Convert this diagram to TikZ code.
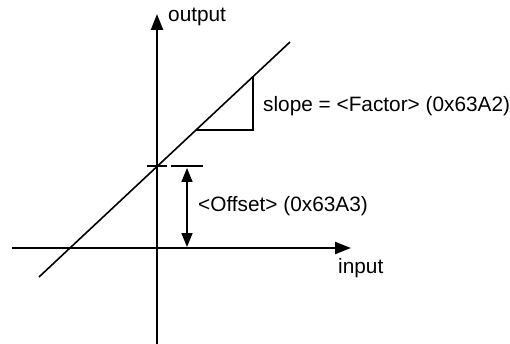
\documentclass[tikz,border=0pt]{standalone}
\usepackage{fontspec}
\setmainfont{Liberation Sans}
\usetikzlibrary{arrows.meta}

\begin{document}
\begin{tikzpicture}[
  x=1pt, y=-1pt,
  font=\fontsize{20.8}{25}\selectfont,
  axis/.style={draw=black, line width=2.4pt, -{Triangle[width=12pt,length=16pt]}},
  curve/.style={draw=black, line width=1.6pt},
  helper/.style={draw=black, line width=1.2pt},
  dim/.style={draw=black, line width=1.6pt, {Triangle[width=11pt,length=14pt]}-{Triangle[width=11pt,length=14pt]}},
  lbl/.style={inner sep=0pt, anchor=west}
]
\useasboundingbox (0,0) rectangle (510,344);

% axes
\coordinate (ybot) at (157, 344);
\coordinate (ytop) at (157, 14);
\coordinate (xleft) at (12, 248);
\coordinate (xright) at (351, 248);
\draw[axis] (ybot) -- (ytop);
\draw[axis] (xleft) -- (xright);
\node[lbl] (output) at (168, 17) {output};
\node[lbl] (input) at (338, 268) {input};

% characteristic line
\coordinate (lstart) at (39, 277);
\coordinate (lend) at (290, 42);
\draw[curve] (lstart) -- (lend);

% slope triangle
\coordinate (tri1) at (196, 130);
\coordinate (tri2) at (253, 130);
\coordinate (tri3) at (253, 77);
\draw[helper] (tri1) -- (tri2) -- (tri3);
\node[lbl] (slope) at (263, 106) {slope = <Factor> (0x63A2)};

% offset
\coordinate (tickA) at (147, 166);
\coordinate (tickB) at (167, 166);
\coordinate (tickC) at (171, 166);
\coordinate (tickD) at (203, 166);
\draw[curve] (tickA) -- (tickB);
\draw[curve] (tickC) -- (tickD);
\coordinate (offtop) at (187, 168);
\coordinate (offbot) at (187, 247);
\draw[dim] (offtop) -- (offbot);
\node[lbl] (offset) at (198, 206) {<Offset> (0x63A3)};
\end{tikzpicture}
\end{document}
